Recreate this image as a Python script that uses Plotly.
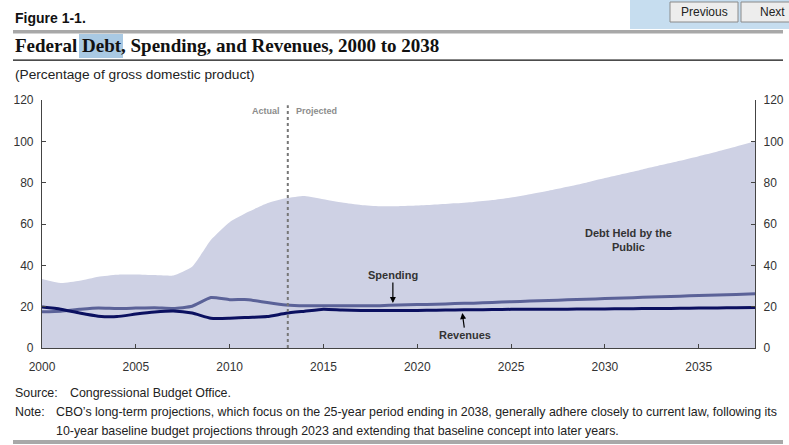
import plotly.graph_objects as go

# %% Data (percentage of GDP)
years = list(range(2000, 2039))

debt = [33.4, 31.4, 32.5, 34.5, 35.5, 35.6, 35.3, 35.1, 39.3, 52.3,
        60.9, 65.9, 70.1, 72.5, 73.6, 72.0, 70.4, 69.2, 68.6, 68.6,
        68.9, 69.4, 70.0, 70.7, 71.6, 72.8, 74.4, 76.1, 78.0, 80.0,
        82.2, 84.3, 86.4, 88.5, 90.6, 92.8, 95.1, 97.5, 100.0]

spending = [17.5, 17.8, 18.7, 19.4, 19.1, 19.3, 19.5, 19.1, 20.2, 24.4,
            23.4, 23.4, 22.0, 20.8, 20.4, 20.5, 20.4, 20.4, 20.5, 20.8,
            21.0, 21.2, 21.5, 21.7, 22.0, 22.4, 22.7, 23.0, 23.3, 23.6,
            23.9, 24.2, 24.5, 24.8, 25.1, 25.4, 25.7, 25.9, 26.2]

revenues = [19.8, 18.8, 16.9, 15.4, 15.2, 16.4, 17.4, 17.9, 16.9, 14.4,
            14.4, 14.8, 15.2, 16.8, 17.8, 18.8, 18.4, 18.2, 18.1, 18.1,
            18.2, 18.3, 18.4, 18.5, 18.6, 18.7, 18.7, 18.8, 18.8, 18.9,
            18.9, 19.0, 19.1, 19.1, 19.2, 19.3, 19.4, 19.5, 19.6]

x_ticks = [2000, 2005, 2010, 2015, 2020, 2025, 2030, 2035]
y_ticks = [0, 20, 40, 60, 80, 100, 120]
split_year = 2013.1

# %% Page geometry (pixels) -> paper coords
W, H = 789, 445
PL, PR, PT, PB = 42, 755, 100, 348

def px(x):
    return (x - PL) / (PR - PL)

def py(y):
    return (PB - y) / (PB - PT)

SANS = "Liberation Sans, Arial, sans-serif"
SERIF = "Liberation Serif, Times New Roman, serif"

# %% Figure
fig = go.Figure()

fig.add_trace(go.Scatter(
    x=years, y=debt, mode="lines", fill="tozeroy",
    fillcolor="#CED1E4", line=dict(width=0, shape="spline", smoothing=0.5),
    hoverinfo="skip", showlegend=False))

fig.add_trace(go.Scatter(
    x=years, y=spending, mode="lines",
    line=dict(color="#5B6298", width=3, shape="spline", smoothing=0.5),
    showlegend=False))

fig.add_trace(go.Scatter(
    x=years, y=revenues, mode="lines",
    line=dict(color="#0B1060", width=3, shape="spline", smoothing=0.5),
    showlegend=False))

# right axis mirror
fig.add_trace(go.Scatter(x=[2000], y=[0], yaxis="y2", mode="markers",
                         marker=dict(opacity=0), hoverinfo="skip", showlegend=False))

axis_common = dict(showgrid=False, zeroline=False, showline=True, linecolor="#444",
                   linewidth=1.2, ticks="inside", ticklen=4, tickcolor="#444",
                   automargin=False,
                   tickfont=dict(family=SANS, size=12, color="#333"))

fig.update_layout(
    width=W, height=H,
    margin=dict(l=PL, r=W - PR, t=PT, b=H - PB),
    paper_bgcolor="white", plot_bgcolor="white",
    xaxis=dict(range=[2000, 2038], tickvals=x_ticks, ticklabelstandoff=7, **axis_common),
    yaxis=dict(range=[0, 120], tickvals=y_ticks, ticklabelstandoff=5, **axis_common),
    yaxis2=dict(range=[0, 120], tickvals=y_ticks, overlaying="y", side="right",
                ticklabelstandoff=5, **axis_common),
)

# Actual / Projected divider
fig.add_shape(type="line", x0=split_year, x1=split_year, y0=0, y1=117.5,
              xref="x", yref="y", line=dict(color="#777", width=2, dash="dot"))
fig.add_annotation(x=split_year, y=114.5, xref="x", yref="y", text="<b>Actual</b>",
                   showarrow=False, xanchor="right", xshift=-6,
                   font=dict(family=SANS, size=9, color="#8C8C8C"))
fig.add_annotation(x=split_year, y=114.5, xref="x", yref="y", text="<b>Projected</b>",
                   showarrow=False, xanchor="left", xshift=6,
                   font=dict(family=SANS, size=9, color="#8C8C8C"))

# series labels
lab_font = dict(family=SANS, size=11, color="#333")
fig.add_annotation(x=2018.7, y=21.8, text="<b>Spending</b>", font=lab_font,
                   showarrow=True, arrowhead=2, arrowsize=1, arrowwidth=1.2,
                   arrowcolor="black", ax=0, ay=-28)
fig.add_annotation(x=2022.4, y=16.9, text="<b>Revenues</b>", font=lab_font,
                   showarrow=True, arrowhead=2, arrowsize=1, arrowwidth=1.2,
                   arrowcolor="black", ax=3, ay=22)
fig.add_annotation(x=2031.25, y=52.2, text="<b>Debt Held by the<br>Public</b>",
                   font=lab_font, showarrow=False, align="center")

# %% Page furniture: header, title, footer
def rect(x0, y0, x1, y1, fill, line=None, lw=0):
    fig.add_shape(type="rect", xref="paper", yref="paper",
                  x0=px(x0), x1=px(x1), y0=py(y0), y1=py(y1),
                  fillcolor=fill, line=dict(color=line or fill, width=lw), layer="above")

def text(x, y, s, font, anchor="left"):
    fig.add_annotation(xref="paper", yref="paper", x=px(x), y=py(y), text=s,
                       showarrow=False, xanchor=anchor, yanchor="middle", font=font)

rect(13, 30, 783, 33.5, "#A8A8A8")
rect(79, 34, 123, 58, "#A9C9E3")
rect(13, 59.5, 783, 60.8, "#111")
rect(13, 440, 783, 444, "#A8A8A8")

# popup with navigation buttons
rect(630, 0, 789, 29, "#C6DDEF")
rect(670, 2, 738, 22, "#EDEDED", "#8A8A8A", 1)
rect(741, 2, 792, 22, "#EDEDED", "#8A8A8A", 1)
text(704, 12, "Previous", dict(family=SANS, size=12, color="#222"), "center")
text(772, 12, "Next", dict(family=SANS, size=12, color="#222"), "center")

text(13, 18, "<b>Figure 1-1.</b>", dict(family=SANS, size=14, color="#111"))
text(13, 46, "<b>Federal Debt, Spending, and Revenues, 2000 to 2038</b>",
     dict(family=SERIF, size=19, color="#111"))
text(13, 74, "(Percentage of gross domestic product)",
     dict(family=SANS, size=13.7, color="#222"))

foot = dict(family=SANS, size=12.4, color="#222")
text(13, 393, "Source:", foot)
text(68, 393, "Congressional Budget Office.", foot)
text(13, 412, "Note:", foot)
text(54, 412, "CBO\u2019s long-term projections, which focus on the 25-year period ending in 2038, "
              "generally adhere closely to current law, following its", foot)
text(54, 431, "10-year baseline budget projections through 2023 and extending that "
              "baseline concept into later years.", foot)

# page body has an 8px default margin; drop it so the figure fills the window
fig.write_html("out.html", config={"displayModeBar": False},
               post_script="document.body.style.margin='0px';")
